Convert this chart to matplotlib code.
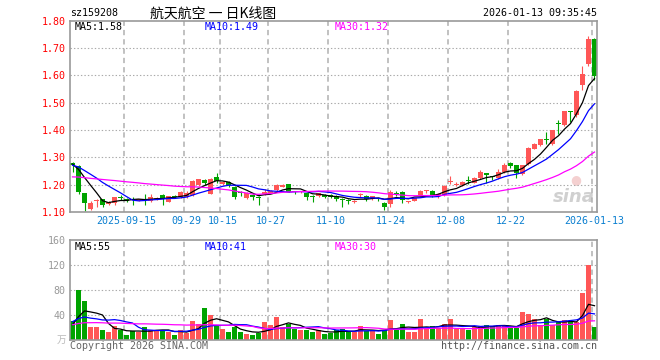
import numpy as np
import pandas as pd
import matplotlib
matplotlib.use("Agg")
import matplotlib.pyplot as plt

plt.rcParams['lines.scale_dashes'] = False

W, H = 660, 360

# ---------------- data ----------------
opens = [1.278, 1.268, 1.170, 1.111, 1.139, 1.146, 1.129, 1.132, 1.153, 1.147,
         1.145, 1.141, 1.147, 1.141, 1.146, 1.162, 1.138, 1.157, 1.156, 1.156,
         1.162, 1.198, 1.216, 1.167, 1.228, 1.202, 1.208, 1.192, 1.171, 1.150,
         1.162, 1.153, 1.165, 1.171, 1.180, 1.192, 1.201, 1.174, 1.172, 1.168,
         1.157, 1.160, 1.163, 1.162, 1.160, 1.147, 1.141, 1.135, 1.161, 1.160,
         1.147, 1.151, 1.134, 1.131, 1.168, 1.174, 1.137, 1.141, 1.162, 1.176,
         1.178, 1.160, 1.162, 1.211, 1.200, 1.198, 1.214, 1.207, 1.225, 1.239,
         1.229, 1.223, 1.247, 1.280, 1.271, 1.239, 1.275, 1.332, 1.344, 1.364,
         1.348, 1.422, 1.417, 1.469, 1.454, 1.565, 1.642, 1.731]
closes = [1.272, 1.174, 1.132, 1.134, 1.141, 1.126, 1.138, 1.154, 1.151, 1.142,
          1.143, 1.146, 1.145, 1.156, 1.153, 1.146, 1.158, 1.155, 1.173, 1.171,
          1.213, 1.219, 1.206, 1.220, 1.214, 1.209, 1.198, 1.156, 1.169, 1.168,
          1.155, 1.150, 1.174, 1.178, 1.200, 1.200, 1.174, 1.172, 1.176, 1.156,
          1.155, 1.168, 1.156, 1.156, 1.147, 1.145, 1.139, 1.141, 1.163, 1.146,
          1.158, 1.149, 1.117, 1.174, 1.166, 1.145, 1.139, 1.150, 1.177, 1.178,
          1.158, 1.162, 1.195, 1.213, 1.202, 1.211, 1.212, 1.225, 1.245, 1.237,
          1.227, 1.247, 1.271, 1.268, 1.241, 1.271, 1.335, 1.347, 1.366, 1.362,
          1.399, 1.420, 1.468, 1.467, 1.542, 1.603, 1.731, 1.596]
highs = [1.283, 1.272, 1.170, 1.142, 1.147, 1.148, 1.142, 1.156, 1.162, 1.150,
         1.155, 1.149, 1.167, 1.165, 1.156, 1.165, 1.160, 1.162, 1.178, 1.175,
         1.216, 1.222, 1.220, 1.223, 1.242, 1.212, 1.212, 1.195, 1.176, 1.172,
         1.165, 1.158, 1.185, 1.180, 1.202, 1.203, 1.203, 1.176, 1.178, 1.170,
         1.162, 1.170, 1.165, 1.164, 1.162, 1.150, 1.146, 1.143, 1.170, 1.162,
         1.160, 1.153, 1.136, 1.180, 1.178, 1.176, 1.142, 1.152, 1.180, 1.180,
         1.180, 1.170, 1.197, 1.231, 1.210, 1.213, 1.231, 1.227, 1.252, 1.242,
         1.233, 1.258, 1.280, 1.283, 1.273, 1.273, 1.337, 1.353, 1.368, 1.393,
         1.401, 1.438, 1.470, 1.470, 1.545, 1.633, 1.743, 1.735]
lows = [1.245, 1.166, 1.104, 1.106, 1.120, 1.120, 1.125, 1.127, 1.145, 1.137,
        1.126, 1.139, 1.126, 1.135, 1.143, 1.125, 1.136, 1.150, 1.150, 1.152,
        1.160, 1.195, 1.198, 1.165, 1.205, 1.198, 1.190, 1.147, 1.160, 1.148,
        1.144, 1.125, 1.162, 1.168, 1.178, 1.190, 1.172, 1.165, 1.168, 1.144,
        1.138, 1.155, 1.150, 1.150, 1.140, 1.117, 1.129, 1.133, 1.155, 1.140,
        1.145, 1.140, 1.107, 1.117, 1.158, 1.134, 1.133, 1.139, 1.160, 1.170,
        1.154, 1.153, 1.158, 1.203, 1.194, 1.196, 1.203, 1.205, 1.222, 1.205,
        1.218, 1.220, 1.243, 1.260, 1.226, 1.236, 1.273, 1.330, 1.342, 1.350,
        1.346, 1.384, 1.415, 1.429, 1.448, 1.545, 1.634, 1.584]
volumes = [31.6, 80, 62.6, 21.6, 21.6, 16.8, 12.6, 23.2, 15.8, 8.9,
           14.2, 12.6, 21.6, 16.8, 15.3, 16.8, 12.6, 8.9, 16.8, 11,
           31, 26.3, 51.6, 40.5, 23.2, 18.4, 13.7, 22.1, 12.6, 10.5,
           8.9, 11, 29.5, 24.7, 37.4, 22, 26, 18, 16, 16,
           13, 16, 10, 12, 16.8, 18.4, 14.2, 12.6, 23.2, 15.3,
           16.8, 10.5, 16.8, 32.6, 16.8, 26.3, 13.7, 13.7, 34.2, 19.5,
           23.2, 19.5, 26.3, 34.2, 18.4, 19.5, 16.8, 22.1, 23.2, 24.7,
           23.2, 24.7, 23.2, 19.5, 19.5, 45.3, 42.1, 33.7, 24.7, 34.2,
           24.7, 30, 32.6, 30, 30, 75.3, 119.5, 21.6]
# estimated closes / volumes of the 29 sessions before the visible window (moving-average warm-up)
warm_close = [1.19, 1.20, 1.21, 1.20, 1.19, 1.20, 1.21, 1.22, 1.21, 1.20,
              1.21, 1.22, 1.21, 1.21, 1.20, 1.21, 1.22, 1.21, 1.20, 1.22,
              1.24, 1.26, 1.27, 1.28, 1.285, 1.27, 1.28, 1.275, 1.278]
warm_vol = [20, 25, 22, 18, 24, 28, 21, 19, 23, 26, 22, 20, 24, 25, 21, 23, 22, 20, 24, 23,
            30, 38, 40, 33, 34, 15, 16, 30, 31]

tick_idx = [9, 19, 25, 33, 43, 53, 63, 73, 87]
tick_labels = ["2025-09-15", "09-29", "10-15", "10-27", "11-10", "11-24", "12-08", "12-22", "2026-01-13"]
price_ticks = [1.10, 1.20, 1.30, 1.40, 1.50, 1.60, 1.70, 1.80]
vol_ticks = [40, 80, 120, 160]

code = "sz159208"
title = "航天航空 一 日K线图"
stamp = "2026-01-13 09:35:45"
price_ma_labels = ["MA5:1.58", "MA10:1.49", "MA30:1.32"]
vol_ma_labels = ["MA5:55", "MA10:41", "MA30:30"]

# ---------------- styling ----------------
RED = "#ff5656"
GREEN = "#00a300"
MA_COLORS = ["#000000", "#0000ff", "#ff00ff"]
GRID = "#aaaaaa"
MONO = "DejaVu Sans Mono"
CJK = ["Noto Sans CJK SC", "DejaVu Sans"]

n = len(closes)
x = np.arange(n)
o = np.array(opens); c = np.array(closes); h = np.array(highs); l = np.array(lows)
v = np.array(volumes)
up = c >= o
cols = np.where(up, RED, GREEN)

def ma(series, warm, k):
    s = pd.Series(list(warm) + list(series)).rolling(k).mean().values
    return s[len(warm):]

fig = plt.figure(figsize=(W / 100, H / 100), dpi=100)
fig.patch.set_facecolor("white")

def frac_rect(left, top, right, bottom):
    return [left / W, 1 - bottom / H, (right - left) / W, (bottom - top) / H]

XL = (-0.417, 87.417)
BW = 0.833

def style_axes(ax):
    for s in ax.spines.values():
        s.set_color("#999999")
        s.set_linewidth(1.2)
    ax.set_xlim(*XL)
    ax.tick_params(axis="both", length=0)
    for t in tick_idx:
        ax.axvline(t - 0.417, color="#b0b0b0", lw=1.1, linestyle=(0, (3.8, 2.9)), zorder=1)

# ---------------- price panel ----------------
ax = fig.add_axes(frac_rect(70, 20.5, 597, 212))
style_axes(ax)
ax.set_ylim(1.10, 1.80)
for yv in price_ticks[1:-1]:
    ax.axhline(yv, color=GRID, lw=0.8, linestyle=(0, (1, 1.5)), zorder=1)
ax.vlines(x, l, h, colors=cols, lw=0.8, zorder=2)
body_h = np.maximum(np.abs(c - o), 0.004)
ax.bar(x, body_h, bottom=np.minimum(o, c), width=BW, color=cols, linewidth=0, zorder=2)
for k, col in zip([5, 10, 30], MA_COLORS):
    ax.plot(x, ma(closes, warm_close, k), color=col, lw=0.9, zorder=3)
ax.set_yticks(price_ticks)
ax.set_yticklabels([f"{t:.2f}" for t in price_ticks], color="#ff0000", fontsize=7.2, family=MONO)
ax.tick_params(axis="y", pad=3)
ax.set_xticks(tick_idx)
ax.set_xticklabels(tick_labels, color="#0a7fd0", fontsize=7.2, family=MONO)
ax.tick_params(axis="x", pad=3)
# watermark
ax.text(0.955, 0.08, "sina", transform=ax.transAxes, fontsize=13, fontweight="bold",
        fontstyle="italic", color="#d0d0d0", ha="center", va="center", zorder=0)
ax.text(0.96, 0.17, "●", transform=ax.transAxes, fontsize=9, color="#f4d0d0",
        ha="center", va="center", zorder=0)

# ---------------- volume panel ----------------
ax2 = fig.add_axes(frac_rect(70, 240, 597, 340.4))
style_axes(ax2)
ax2.set_ylim(0, 160)
for yv in vol_ticks[:-1]:
    ax2.axhline(yv, color=GRID, lw=0.8, linestyle=(0, (1, 1.5)), zorder=1)
ax2.bar(x, v, width=BW, color=cols, linewidth=0, zorder=2)
for k, col in zip([5, 10, 30], MA_COLORS):
    ax2.plot(x, ma(volumes, warm_vol, k), color=col, lw=0.9, zorder=3)
ax2.set_yticks(vol_ticks)
ax2.set_yticklabels([str(t) for t in vol_ticks], color="#999999", fontsize=7.2, family=MONO)
ax2.tick_params(axis="y", pad=3)
ax2.set_xticks([])

# ---------------- texts ----------------
def ftext(px, py, s, **kw):
    fig.text(px / W, 1 - py / H, s, **kw)

ftext(70, 13.5, code, fontsize=7.2, family=MONO, color="#000000", va="center", ha="left")
ftext(150, 13.5, title, fontsize=10, family=CJK, color="#000000", va="center", ha="left")
ftext(597, 13.5, stamp, fontsize=7.2, family=MONO, color="#000000", va="center", ha="right")

for px, s, col in zip([75, 205, 335], price_ma_labels, MA_COLORS):
    ftext(px, 26.5, s, fontsize=7.2, family=MONO, color=col, va="center", ha="left")
for px, s, col in zip([75, 205, 335], vol_ma_labels, MA_COLORS):
    ftext(px, 246.5, s, fontsize=7.2, family=MONO, color=col, va="center", ha="left")

ftext(66, 340, "万", fontsize=7, family=CJK, color="#bbbbbb", va="center", ha="right")
ftext(70, 346, "Copyright 2026 SINA.COM", fontsize=7.2, family=MONO, color="#666666", va="center", ha="left")
ftext(597, 346, "http://finance.sina.com.cn", fontsize=7.2, family=MONO, color="#555555", va="center", ha="right")

fig.savefig("out.png", dpi=100, facecolor="white")
